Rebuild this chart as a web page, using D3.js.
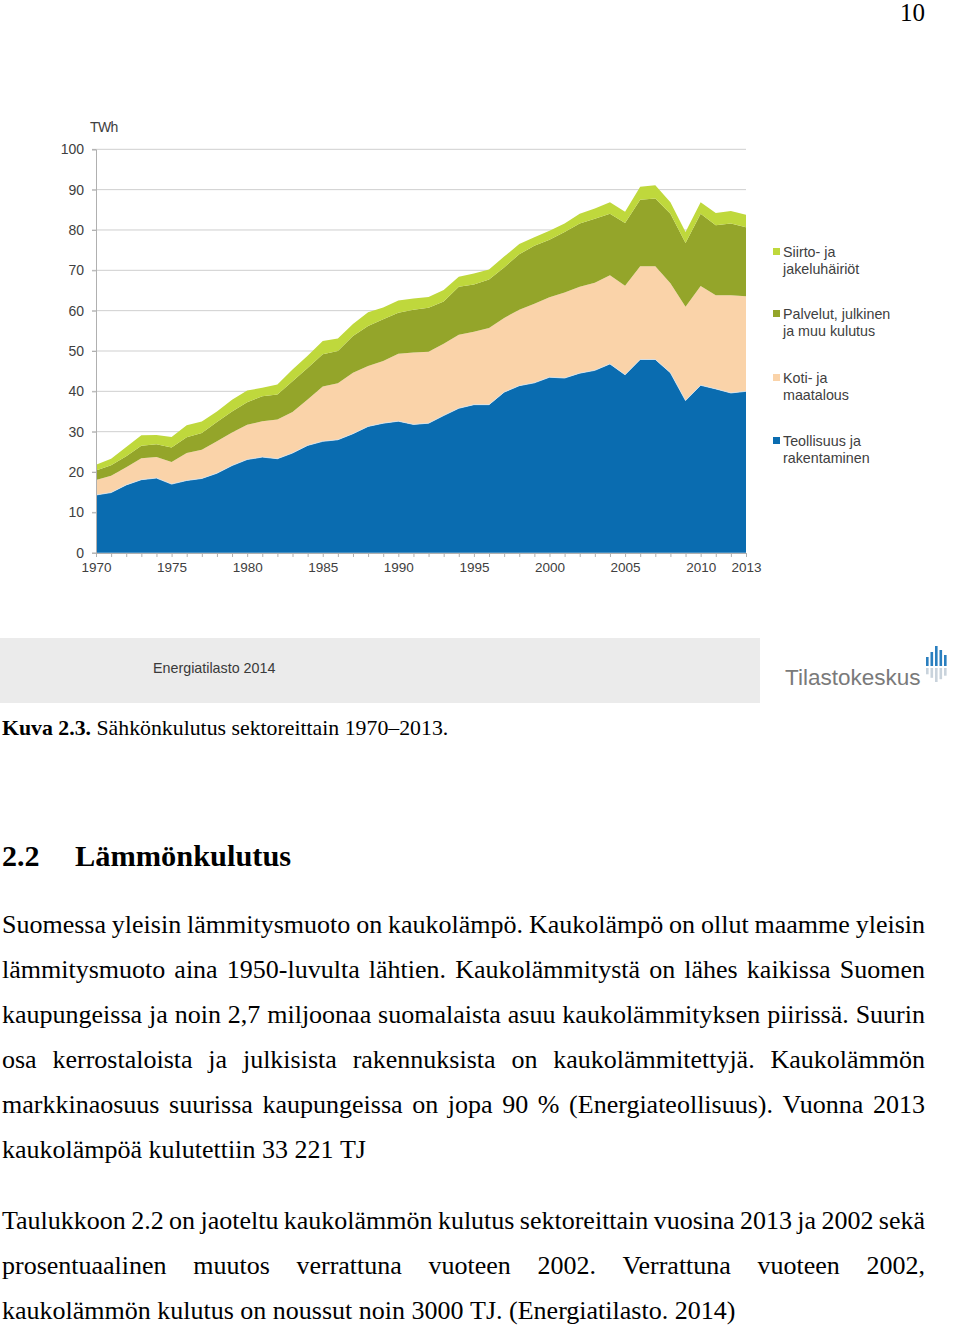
<!DOCTYPE html>
<html><head><meta charset="utf-8">
<script src="https://cdn.jsdelivr.net/npm/d3@7"></script>
<style>body{margin:0;background:#fff} svg{display:block}</style>
</head><body>
<svg id="page" width="960" height="1327"></svg>
<script>
// ---------- DATA (TWh) ----------
const years = [1970,1971,1972,1973,1974,1975,1976,1977,1978,1979,1980,1981,1982,1983,1984,1985,1986,1987,1988,1989,1990,1991,1992,1993,1994,1995,1996,1997,1998,1999,2000,2001,2002,2003,2004,2005,2006,2007,2008,2009,2010,2011,2012,2013];
const teollisuus = [14.3,14.9,16.8,18.1,18.5,17.0,17.9,18.4,19.7,21.6,23.1,23.7,23.3,24.7,26.6,27.6,28.0,29.5,31.3,32.1,32.6,31.8,32.1,34.0,35.8,36.7,36.7,39.8,41.4,42.1,43.5,43.3,44.5,45.2,46.8,44.1,47.9,47.9,44.6,37.7,41.5,40.6,39.6,40.0];
const koti = [3.7,4.2,4.4,5.3,5.2,5.5,6.8,7.1,7.9,8.2,8.6,8.9,9.7,10.2,11.4,13.6,14.0,15.1,15.0,15.4,16.7,17.8,17.7,17.8,18.2,18.1,19.0,18.4,18.8,19.6,19.8,21.2,21.4,21.7,22.0,22.1,23.1,23.1,22.2,23.3,24.6,23.2,24.2,23.6];
const palvelut = [2.4,2.6,2.7,3.1,3.2,3.6,3.9,4.2,4.8,5.2,5.6,6.2,6.2,7.6,7.8,8.0,8.0,9.1,9.9,10.4,10.2,10.6,10.9,10.5,11.9,11.7,12.0,12.5,13.8,14.4,14.3,15.0,15.7,15.9,15.2,15.5,16.5,16.8,17.2,15.8,17.9,17.4,17.8,17.1];
const siirto = [1.4,1.6,2.3,2.6,2.3,2.6,3.0,2.8,2.6,2.9,2.9,2.1,2.5,2.9,3.0,3.3,3.1,3.0,3.4,2.9,3.0,2.8,2.7,2.8,2.5,2.7,2.5,2.7,2.5,2.1,2.2,2.1,2.4,2.5,2.9,2.8,3.2,3.3,2.9,2.7,2.9,3.0,3.1,3.1];
const seriesKeys = ["teollisuus","koti","palvelut","siirto"];
const legendLabels = [["Siirto- ja","jakeluhäiriöt"],["Palvelut, julkinen","ja muu kulutus"],["Koti- ja","maatalous"],["Teollisuus ja","rakentaminen"]];
const legendKeys = ["siirto","palvelut","koti","teollisuus"];
const yTicks = [0,10,20,30,40,50,60,70,80,90,100];
const xTickLabels = [1970,1975,1980,1985,1990,1995,2000,2005,2010,2013];
const unitLabel = "TWh";
const sourceText = "Energiatilasto 2014";
const logoText = "Tilastokeskus";
const logoBars = [0.45,0.7,1.0,0.8,0.55];

const colors = {teollisuus:"#0a6cb0", koti:"#fad3a9", palvelut:"#94a52a", siirto:"#bfd83c"};

const svg = d3.select("#page");
svg.append("rect").attr("width",960).attr("height",1327).attr("fill","#fff");

svg.append("text").attr("x",925).attr("y",21).attr("text-anchor","end")
  .attr("font-family","'Liberation Serif','Times New Roman',serif").attr("font-size",25).attr("fill","#000").text("10");

// ---------- CHART ----------
const x = d3.scaleLinear().domain([1970,2013]).range([96,746]);
const y = d3.scaleLinear().domain([0,100]).range([552.7,149.3]);
const rows = years.map((yr,i)=>({year:yr, teollisuus:teollisuus[i], koti:koti[i], palvelut:palvelut[i], siirto:siirto[i]}));
const stack = d3.stack().keys(seriesKeys)(rows);

const chart = svg.append("g");
chart.append("g").selectAll("line").data(yTicks.filter(d=>d>0)).join("line")
  .attr("x1",92).attr("x2",746).attr("y1",d=>y(d)).attr("y2",d=>y(d))
  .attr("stroke","#cfcfcf").attr("stroke-width",1);

const area = d3.area().x(d=>x(d.data.year)).y0(d=>y(d[0])).y1(d=>y(d[1]));
chart.append("g").selectAll("path").data(stack).join("path")
  .attr("d",area).attr("fill",d=>colors[d.key]);
chart.append("path").datum(stack[0])
  .attr("d",d3.line().x(d=>x(d.data.year)).y(d=>y(d[1])))
  .attr("fill","none").attr("stroke","#d6e6f2").attr("stroke-width",0.8);

const axisFont = "'Liberation Sans',Arial,sans-serif";
const yAxis = chart.append("g").attr("transform","translate(96,0)")
  .call(d3.axisLeft(y).tickValues(yTicks).tickSize(4).tickPadding(8).tickFormat(d3.format("d")));
yAxis.select(".domain").attr("stroke","#b0b0b0");
yAxis.selectAll(".tick line").attr("stroke","#b0b0b0");
yAxis.selectAll("text").attr("font-family",axisFont).attr("font-size",14).attr("fill","#404040");

const xAxis = chart.append("g").attr("transform","translate(0,553)")
  .call(d3.axisBottom(x).tickValues(years).tickSize(4).tickPadding(5).tickFormat(d=>xTickLabels.includes(d)?String(d):""));
xAxis.select(".domain").attr("stroke","#b0b0b0");
xAxis.selectAll(".tick line").attr("stroke","#b0b0b0");
xAxis.selectAll("text").attr("font-family",axisFont).attr("font-size",13.5).attr("fill","#404040");

chart.append("text").attr("x",90).attr("y",132).attr("font-family",axisFont)
  .attr("font-size",14).attr("fill","#404040").attr("letter-spacing",-0.6).text(unitLabel);

const legendY = [252,314,378,441];
const lg = chart.append("g");
legendKeys.forEach((k,i)=>{
  const g = lg.append("g").attr("transform",`translate(773,${legendY[i]})`);
  g.append("rect").attr("x",0).attr("y",-4).attr("width",7).attr("height",7).attr("fill",colors[k]);
  legendLabels[i].forEach((t,j)=>{
    g.append("text").attr("x",10).attr("y",j*17).attr("dy","0.35em")
      .attr("font-family",axisFont).attr("font-size",14.3).attr("fill","#404040").text(t);
  });
});

// footer band
svg.append("rect").attr("x",0).attr("y",638).attr("width",760).attr("height",65).attr("fill","#ebebeb");
svg.append("text").attr("x",153).attr("y",668).attr("dy","0.35em").attr("font-family",axisFont)
  .attr("font-size",14.3).attr("fill","#3a3a3a").text(sourceText);
svg.append("text").attr("x",785).attr("y",677).attr("dy","0.35em").attr("font-family",axisFont)
  .attr("font-size",22.5).attr("fill","#7a7a7a").attr("letter-spacing",0).text(logoText);
const lb = svg.append("g").attr("transform","translate(926,666)");
logoBars.forEach((h,i)=>{
  lb.append("rect").attr("x",i*4.5).attr("y",-h*20).attr("width",2.6).attr("height",h*20).attr("fill","#2a7fbf");
  lb.append("rect").attr("x",i*4.5).attr("y",2).attr("width",2.6).attr("height",h*14).attr("fill","#c9d3dc");
});

// ---------- TEXT ----------
const serif = "'Liberation Serif','Times New Roman',serif";
const cap = svg.append("text").attr("x",2).attr("y",735).attr("font-family",serif).attr("font-size",21.8).attr("fill","#000");
cap.append("tspan").attr("font-weight","bold").text("Kuva 2.3.");
cap.append("tspan").text(" Sähkönkulutus sektoreittain 1970–2013.");

svg.append("text").attr("x",2).attr("y",866).attr("font-family",serif).attr("font-size",30).attr("font-weight","bold").text("2.2");
svg.append("text").attr("x",75).attr("y",866).attr("font-family",serif).attr("font-size",30.4).attr("font-weight","bold").text("Lämmönkulutus");

const bodyLines = [
 ["Suomessa yleisin lämmitysmuoto on kaukolämpö. Kaukolämpö on ollut maamme yleisin",933,true],
 ["lämmitysmuoto aina 1950-luvulta lähtien. Kaukolämmitystä on lähes kaikissa Suomen",978,true],
 ["kaupungeissa ja noin 2,7 miljoonaa suomalaista asuu kaukolämmityksen piirissä. Suurin",1023,true],
 ["osa kerrostaloista ja julkisista rakennuksista on kaukolämmitettyjä. Kaukolämmön",1068,true],
 ["markkinaosuus suurissa kaupungeissa on jopa 90 % (Energiateollisuus). Vuonna 2013",1113,true],
 ["kaukolämpöä kulutettiin 33 221 TJ",1158,false],
 ["Taulukkoon 2.2 on jaoteltu kaukolämmön kulutus sektoreittain vuosina 2013 ja 2002 sekä",1229,true],
 ["prosentuaalinen muutos verrattuna vuoteen 2002. Verrattuna vuoteen 2002,",1274,true],
 ["kaukolämmön kulutus on noussut noin 3000 TJ. (Energiatilasto. 2014)",1319,false]
];
const fs = 26, x0 = 2, x1 = 925;
const meas = svg.append("text").attr("font-family",serif).attr("font-size",fs).attr("visibility","hidden");
function w(s){ meas.text(s); return meas.node().getComputedTextLength(); }
const spaceW = w("a a") - w("aa");
bodyLines.forEach(([line,by,just])=>{
  const words = line.split(" ");
  const ww = words.map(w);
  const total = d3.sum(ww);
  const gap = just ? (x1-x0-total)/(words.length-1) : spaceW;
  let cx = x0;
  const t = svg.append("text").attr("y",by).attr("font-family",serif).attr("font-size",fs).attr("fill","#000");
  words.forEach((wd,i)=>{ t.append("tspan").attr("x",cx).text(wd); cx += ww[i]+gap; });
});
meas.remove();
</script>
</body></html>
